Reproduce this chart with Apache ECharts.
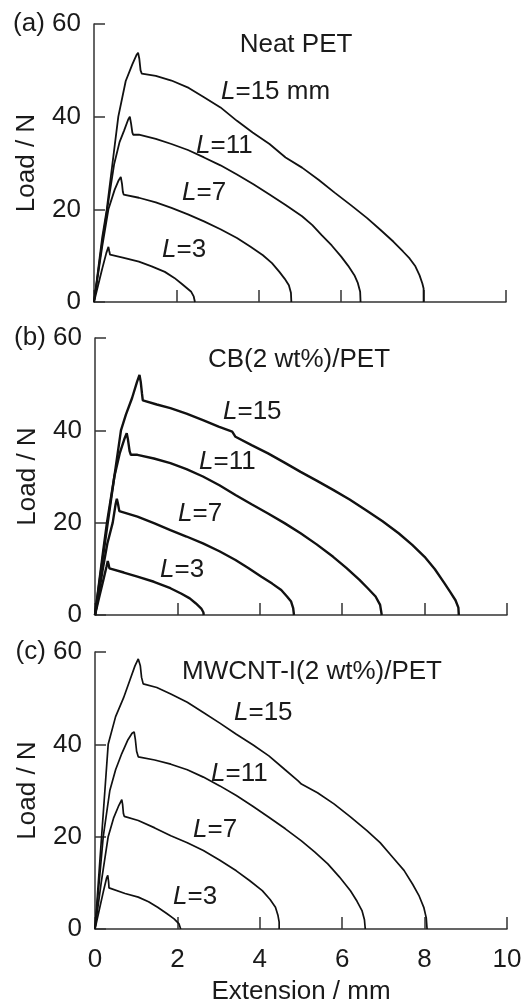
<!DOCTYPE html>
<html>
<head>
<meta charset="utf-8">
<title>Load vs extension</title>
<script src="https://cdn.jsdelivr.net/npm/echarts@6/dist/echarts.min.js"></script>
<style>
  html, body { margin: 0; padding: 0; background: #fff; }
  #main { width: 532px; height: 1002px; }
</style>
</head>
<body>
<div id="main"></div>
<script>
// [extension (mm), load (N)]
var neat15 = [[0,0],[0.1,7],[0.2,14],[0.31,20],[0.45,30],[0.59,40],[0.77,47.7],[0.93,51.3],[1.03,53.3],[1.07,53.8],[1.1,52.5],[1.13,50],[1.16,49.3],[1.5,48.8],[1.88,47.8],[2.3,46.2],[2.67,44.2],[3.07,42],[3.47,39.1],[3.85,36.6],[4.26,34.1],[4.65,31.2],[5.05,29],[5.45,26.4],[5.84,23.6],[6.25,20.8],[6.63,18.1],[6.95,15.6],[7.27,13],[7.5,10.9],[7.66,9.4],[7.8,7.7],[7.9,5.8],[7.97,4],[8.0,2.9],[8.0,0]];
var neat11 = [[0,0],[0.1,6.5],[0.2,13],[0.32,20],[0.49,29.8],[0.62,34.5],[0.73,37],[0.83,39.4],[0.87,40],[0.9,38.5],[0.93,36.6],[0.95,36.1],[1.09,36.1],[1.5,35.2],[1.88,34.1],[2.28,32.8],[2.67,31.2],[3.07,29.5],[3.47,27.5],[3.87,25.4],[4.26,23.2],[4.66,20.9],[5.05,18.5],[5.3,16.6],[5.52,14.5],[5.77,12.2],[6.0,9.8],[6.17,7.8],[6.32,5.8],[6.4,4.2],[6.46,2.2],[6.47,0]];
var neat7 = [[0,0],[0.1,6],[0.2,12],[0.35,20],[0.5,24.2],[0.6,26.3],[0.65,27],[0.68,25.5],[0.7,23.8],[0.72,23.2],[1.09,22.5],[1.5,21.5],[1.88,20.3],[2.28,18.9],[2.67,17.4],[3.07,15.7],[3.47,13.8],[3.8,11.9],[4.1,10.1],[4.32,8.4],[4.5,6.5],[4.63,5],[4.73,3.6],[4.78,2],[4.79,0]];
var neat3 = [[0,0],[0.1,3.6],[0.2,7.2],[0.3,10.6],[0.35,11.9],[0.37,11],[0.39,10.2],[0.4,10.1],[0.7,9.6],[1.09,8.7],[1.4,7.7],[1.72,6.5],[1.95,5.2],[2.12,4],[2.28,2.8],[2.36,2.2],[2.42,1.2],[2.45,0]];

var cb15 = [[0,0],[0.1,6.5],[0.2,13],[0.31,20],[0.47,30],[0.63,40],[0.75,43.4],[0.9,47],[1.02,50.5],[1.08,52],[1.11,50.5],[1.14,48],[1.16,46.5],[1.18,46.3],[1.5,45.6],[1.83,44.8],[2.22,43.6],[2.62,42.2],[3.0,40.8],[3.33,39.7],[3.41,38.6],[3.8,36.8],[4.2,35],[4.6,33],[4.99,31],[5.38,29.1],[5.78,27.1],[6.18,25],[6.58,22.7],[6.98,20.3],[7.37,17.7],[7.7,15.2],[8.0,12.6],[8.25,9.9],[8.48,6.9],[8.62,5],[8.75,3.2],[8.82,1.6],[8.83,0]];
var cb11 = [[0,0],[0.1,7],[0.2,14],[0.29,20],[0.47,30],[0.6,35],[0.72,38.3],[0.77,39.4],[0.8,38],[0.84,35.5],[0.87,34.7],[1.03,34.7],[1.43,33.9],[1.83,32.9],[2.22,31.6],[2.62,30],[3.02,28.1],[3.41,26],[3.8,24],[4.2,22],[4.6,19.9],[4.99,17.7],[5.38,15.3],[5.78,12.6],[6.1,10.2],[6.42,7.6],[6.62,5.8],[6.81,4],[6.92,2.2],[6.96,0]];
var cb7 = [[0,0],[0.1,5],[0.19,10],[0.3,15.5],[0.43,20],[0.5,24],[0.53,25.2],[0.56,24],[0.59,22.5],[0.61,22.2],[1.03,21.3],[1.43,19.9],[1.83,18.4],[2.22,17],[2.62,15.5],[3.02,13.8],[3.41,11.9],[3.72,10.2],[4.04,8.3],[4.3,6.8],[4.52,5.4],[4.66,4],[4.76,2.9],[4.81,1.5],[4.83,0]];
var cb3 = [[0,0],[0.1,3.8],[0.2,7.5],[0.28,10.5],[0.31,11.7],[0.33,11],[0.35,10.1],[0.37,9.9],[0.7,9.2],[1.03,8.3],[1.43,7.2],[1.83,5.8],[2.1,4.6],[2.3,3.6],[2.45,2.5],[2.58,1.4],[2.63,0.6],[2.64,0]];

var cnt15 = [[0,0],[0.08,10],[0.16,20],[0.24,30],[0.32,40],[0.5,46],[0.69,50],[0.85,54],[0.97,57],[1.05,58.5],[1.07,58.7],[1.1,57],[1.13,54.5],[1.17,53.1],[1.5,52.3],[1.84,50.9],[2.24,49.1],[2.63,46.9],[3.03,44.6],[3.43,42.2],[3.83,39.9],[4.22,37.5],[4.6,34.6],[4.93,32.1],[5.01,31.4],[5.4,29.5],[5.8,27.1],[6.2,24.3],[6.6,21.3],[6.92,18.7],[7.23,15.5],[7.5,12.7],[7.71,9.7],[7.86,7.3],[7.98,4.7],[8.04,2.4],[8.06,0]];
var cnt11 = [[0,0],[0.1,10],[0.2,20],[0.36,30],[0.5,34.5],[0.65,38],[0.8,41],[0.9,42.4],[0.95,42.7],[0.98,41],[1.01,38.5],[1.05,37.3],[1.45,36.6],[1.84,35.7],[2.24,34.5],[2.63,32.9],[3.03,31],[3.43,28.9],[3.83,26.6],[4.22,24.2],[4.62,21.7],[5.01,19.1],[5.33,16.7],[5.65,14.1],[5.93,11.3],[6.2,8.3],[6.36,6],[6.48,4],[6.54,2],[6.56,0]];
var cnt7 = [[0,0],[0.15,10],[0.32,20],[0.45,24],[0.58,26.8],[0.65,28],[0.67,27],[0.69,25],[0.71,24.4],[1.05,23.5],[1.45,21.9],[1.84,20.2],[2.24,18.7],[2.63,17],[3.03,14.9],[3.43,12.6],[3.75,10.5],[4.06,8.3],[4.25,6.4],[4.38,4.7],[4.44,3],[4.47,1.5],[4.47,0]];
var cnt3 = [[0,0],[0.1,4],[0.2,8],[0.28,11],[0.31,11.6],[0.33,10.2],[0.34,8.9],[0.36,8.7],[0.73,7.7],[1.05,6.9],[1.3,5.9],[1.52,4.7],[1.75,3.3],[1.92,2.2],[2.04,1.1],[2.08,0]];

var panelTags = ['(a)', '(b)', '(c)'];
var panelTitles = ['Neat PET', 'CB(2 wt%)/PET', 'MWCNT-I(2 wt%)/PET'];

var FONT = '"Liberation Sans", Arial, Helvetica, sans-serif';
var FS = 26;
var INK = '#1a1a1a';
var AXIS = '#333';

var grids = [
  { left: 94, top: 24, width: 412, height: 278 },
  { left: 95, top: 338, width: 412, height: 277 },
  { left: 95, top: 652, width: 412, height: 277 }
];

function makeX(i) {
  return {
    type: 'value', gridIndex: i, min: 0, max: 10, interval: 2,
    axisLine: { lineStyle: { color: AXIS, width: 1.5 } },
    axisTick: { inside: true, length: 12, lineStyle: { color: AXIS, width: 1.5 } },
    splitLine: { show: false },
    axisLabel: { show: i === 2, margin: 18, fontSize: FS, fontFamily: FONT, color: INK },
    name: i === 2 ? 'Extension / mm' : '',
    nameLocation: 'middle', nameGap: 50, nameMoveOverlap: false,
    nameTextStyle: { fontSize: FS, fontFamily: FONT, color: INK }
  };
}

function makeY(i) {
  return {
    type: 'value', gridIndex: i, min: 0, max: 60, interval: 20,
    axisLine: { show: true, lineStyle: { color: AXIS, width: 1.5 } },
    axisTick: { show: true, inside: true, length: 11, lineStyle: { color: AXIS, width: 1.5 } },
    splitLine: { show: false },
    axisLabel: {
      margin: 13, fontSize: FS, fontFamily: FONT, color: INK,
      formatter: function (v) { return v === 60 ? panelTags[i] + ' 60' : String(v); }
    },
    name: 'Load / N', nameLocation: 'middle', nameGap: 54, nameMoveOverlap: false,
    nameTextStyle: { fontSize: FS, fontFamily: FONT, color: INK }
  };
}

function curve(data, i, w) {
  return {
    type: 'line', xAxisIndex: i, yAxisIndex: i, data: data,
    showSymbol: false, symbol: 'none', smooth: false,
    lineStyle: { color: '#111', width: w },
    silent: true
  };
}

var curves = [
  [neat3, neat7, neat11, neat15],
  [cb3, cb7, cb11, cb15],
  [cnt3, cnt7, cnt11, cnt15]
];
var widths = [1.8, 2.4, 1.7];

var series = [];
curves.forEach(function (set, i) {
  set.forEach(function (d) { series.push(curve(d, i, widths[i])); });
});

// curve labels: text, left x, centre y
var lengthLabels = [
  ['{i|L}=15 mm', 221, 92], ['{i|L}=11', 196, 146], ['{i|L}=7', 182, 193], ['{i|L}=3', 162, 250],
  ['{i|L}=15', 223, 412], ['{i|L}=11', 199, 462], ['{i|L}=7', 178, 514], ['{i|L}=3', 160, 570],
  ['{i|L}=15', 234, 713], ['{i|L}=11', 211, 774], ['{i|L}=7', 193, 830], ['{i|L}=3', 173, 897]
];
var titlePos = [[296, 45], [299, 360], [312, 672]];

var graphics = [];
panelTitles.forEach(function (t, i) {
  graphics.push({
    type: 'text', x: titlePos[i][0], y: titlePos[i][1], silent: true,
    style: { text: t, fontSize: FS, fontFamily: FONT, fill: INK, align: 'center', verticalAlign: 'middle' }
  });
});
lengthLabels.forEach(function (l) {
  graphics.push({
    type: 'text', x: l[1], y: l[2], silent: true,
    style: {
      text: l[0], fontSize: FS, fontFamily: FONT, fill: INK, align: 'left', verticalAlign: 'middle',
      rich: { i: { fontStyle: 'italic', fontSize: FS, fontFamily: FONT, fill: INK } }
    }
  });
});

var option = {
  backgroundColor: '#fff',
  animation: false,
  grid: grids.map(function (g) {
    return Object.assign({ outerBoundsMode: 'none', containLabel: false }, g);
  }),
  xAxis: [0, 1, 2].map(makeX),
  yAxis: [0, 1, 2].map(makeY),
  series: series,
  graphic: graphics
};

var myChart = echarts.init(document.getElementById('main'), null, { renderer: 'canvas' });
myChart.setOption(option, true);
</script>
</body>
</html>
